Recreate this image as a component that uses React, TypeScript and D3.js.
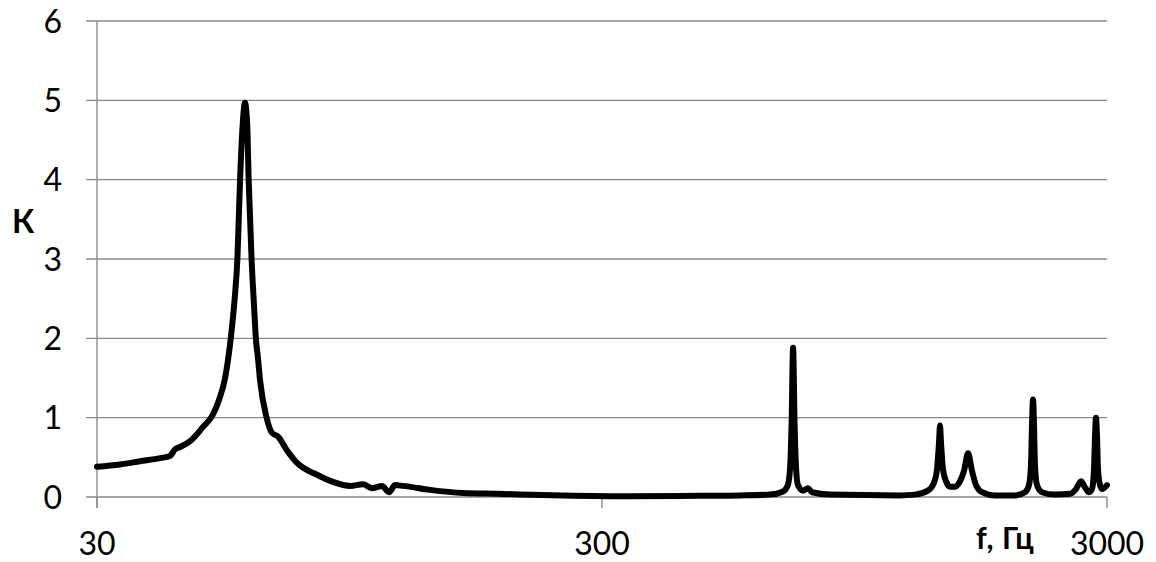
import React from "react";
import * as d3 from "d3";

const freq: number[] = [
  30, 33.3, 36.5, 40.0, 41.9, 42.8, 43.8, 45.8, 48.6, 50.9, 52.3, 53.8, 55.2, 56.2, 56.9, 57.6, 58.3, 58.9,
  59.5, 59.9, 60.7, 61.4, 61.9, 62.5, 63.1, 65.0, 66.6, 68.5, 71.3, 74.7, 81.8, 88.0, 95.1, 100.9, 105.1,
  110.0, 113.6, 116.8, 121.1, 136.9, 159.2, 185.8, 251, 341, 469, 563, 645, 685, 700, 707, 712, 717, 722,
  727, 733, 750, 767, 782, 848, 1167, 1250, 1326, 1363, 1382, 1395, 1401, 1407, 1420, 1440, 1466, 1500,
  1535, 1563, 1592, 1621, 1651, 1697, 1800, 1972, 2064, 2102, 2121, 2131, 2141, 2151, 2160, 2180, 2230,
  2367, 2535, 2604, 2665, 2714, 2764, 2802, 2827, 2840, 2853, 2867, 2879, 2906, 2932, 3000,
];

const kValues: number[] = [
  0.38, 0.41, 0.45, 0.49, 0.52, 0.6, 0.63, 0.7, 0.88, 1.04, 1.22, 1.5, 2.0, 2.5, 3.0, 4.0, 4.7, 4.97,
  4.7, 4.0, 3.0, 2.4, 2.0, 1.75, 1.47, 1.0, 0.81, 0.76, 0.59, 0.43, 0.28, 0.19, 0.14, 0.16, 0.11,
  0.14, 0.06, 0.15, 0.14, 0.09, 0.05, 0.04, 0.02, 0.01, 0.015, 0.02, 0.03, 0.07, 0.15, 0.35, 0.9, 1.88, 0.9,
  0.35, 0.15, 0.08, 0.11, 0.06, 0.03, 0.02, 0.03, 0.08, 0.18, 0.35, 0.7, 0.9, 0.7, 0.35, 0.2, 0.13, 0.13,
  0.2, 0.33, 0.55, 0.33, 0.15, 0.06, 0.02, 0.02, 0.06, 0.15, 0.4, 0.9, 1.23, 0.9, 0.4, 0.15, 0.06,
  0.03, 0.04, 0.1, 0.2, 0.12, 0.06, 0.1, 0.35, 0.75, 1.0, 0.75, 0.35, 0.15, 0.1, 0.15,
];

const yTicks: number[] = [0, 1, 2, 3, 4, 5, 6];
const xTicks: number[] = [30, 300, 3000];
const yAxisTitle = "К";
const xAxisTitle = "f, Гц";

const W = 1156;
const H = 562;
const left = 97;
const right = 1107;
const top = 21;
const bottom = 497;

export default function App() {
  const x = d3.scaleLog().domain([30, 3000]).range([left, right]);
  const y = d3.scaleLinear().domain([0, 6]).range([bottom, top]);
  const data = freq.map((f, i) => ({ f, k: kValues[i] }));
  const line = d3
    .line<{ f: number; k: number }>()
    .x((d) => x(d.f))
    .y((d) => y(d.k))
    .curve(d3.curveMonotoneX);
  const font = "Lato, 'Open Sans', 'Noto Sans', sans-serif";
  const grid = "#8a8a8a";
  return (
    <svg
      width={W}
      height={H}
      style={{ position: "absolute", left: 0, top: 0, background: "#fff" }}
      fontFamily={font}
    >
      {yTicks.map((t) => (
        <g key={"y" + t}>
          <line x1={left - 11} x2={right} y1={y(t)} y2={y(t)} stroke={grid} strokeWidth={1.4} />
          <text x={62} y={y(t) + 11.5} textAnchor="end" fontSize={32} fill="#000">
            {t}
          </text>
        </g>
      ))}
      <line x1={left} x2={left} y1={top} y2={bottom + 11} stroke={grid} strokeWidth={1.4} />
      {xTicks.map((t) => (
        <g key={"x" + t}>
          <line x1={x(t)} x2={x(t)} y1={bottom} y2={bottom + 11} stroke={grid} strokeWidth={1.4} />
          <text x={x(t)} y={555} textAnchor="middle" fontSize={32} fill="#000">
            {t}
          </text>
        </g>
      ))}
      <path
        d={line(data) || ""}
        fill="none"
        stroke="#000"
        strokeWidth={6}
        strokeLinejoin="round"
        strokeLinecap="round"
      />
      <text x={12} y={233} fontSize={32} fontWeight="bold" fill="#000">
        {yAxisTitle}
      </text>
      <text x={976} y={549} fontSize={30} fontWeight="bold" letterSpacing={0.5} fill="#000">
        {xAxisTitle}
      </text>
    </svg>
  );
}
